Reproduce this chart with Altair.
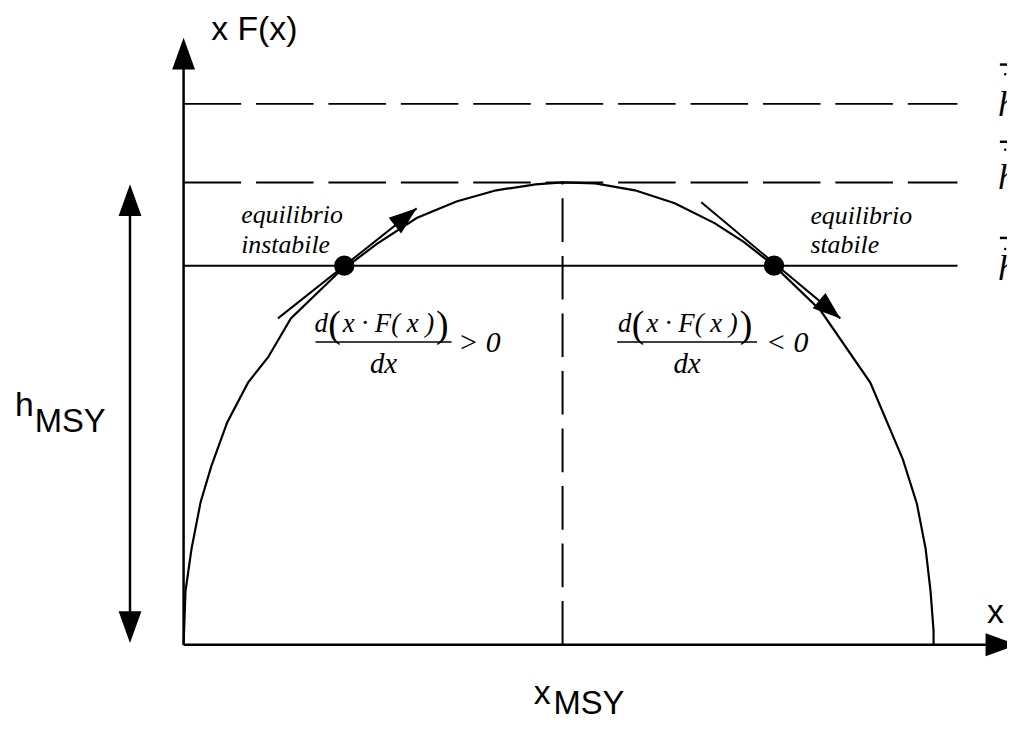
import altair as alt
import pandas as pd

# ---- data (x in units of x_MSY, y in units of h_MSY) ----
curve_x = [0, 0.005, 0.021, 0.045, 0.073, 0.115, 0.170, 0.223, 0.283, 0.406, 0.510,
           0.615, 0.720, 0.825, 0.929, 1.0, 1.086, 1.191, 1.296, 1.401, 1.479, 1.558,
           1.681, 1.812, 1.898, 1.935, 1.958, 1.971, 1.979, 1.979]
curve_y = [0, 0.116, 0.208, 0.309, 0.386, 0.481, 0.567, 0.622, 0.706, 0.803, 0.867,
           0.923, 0.959, 0.983, 0.996, 1.0, 0.998, 0.983, 0.955, 0.912, 0.871, 0.820,
           0.723, 0.567, 0.401, 0.305, 0.208, 0.116, 0.030, 0]

x_msy = 1.0
h_msy = 1.0

dashed_levels = [1.170, 1.0]
solid_levels = [0.820]
level_x_end = 2.042

eq_x = [0.424, 1.558]
eq_y = [0.820, 0.820]

tan_x0 = [0.249, 1.366]
tan_y0 = [0.706, 0.957]
tan_x1 = [0.615, 1.733]
tan_y1 = [0.944, 0.706]
tan_angle = [51.6, 129.9]

eq_labels_top = ["equilibrio", "equilibrio"]
eq_labels_bot = ["instabile", "stabile"]
eq_label_x = [0.152, 1.654]
eq_label_y_top = [0.912, 0.910]
eq_label_y_bot = [0.848, 0.848]

frac_center_x = [0.5275, 1.3285]
frac_num_y = 0.676
frac_den_y = 0.588
frac_bar_y = 0.655
frac_bar_x0 = [0.348, 1.144]
frac_bar_x1 = [0.707, 1.513]
frac_sign = ["> 0", "< 0"]
frac_sign_x = [0.725, 1.537]
frac_sign_y = 0.633
num_d = "d"
num_open = "("
num_inner = "x · F( x )"
num_close = ")"
frac_den = "dx"

h_label_y = [1.144, 0.985, 0.790]
h_bar_y = [1.255, 1.088, 0.880]
h_dot_y = [1.234, 1.071, 0.856]

# ---- scales ----
X = alt.Scale(domain=[-0.46335, 2.17277], nice=False, zero=False)
Y = alt.Scale(domain=[-0.16309, 1.37124], nice=False, zero=False)
ARROW = "M0,0L0.72,2L-0.72,2Z"
SERIF = "Liberation Serif"
SANS = "Liberation Sans"


def xe(f="x"):
    return alt.X(f + ":Q", scale=X, axis=None)


def ye(f="y"):
    return alt.Y(f + ":Q", scale=Y, axis=None)


def text_layer(df, **kw):
    base = dict(baseline="alphabetic", color="black")
    base.update(kw)
    return alt.Chart(df).mark_text(**base).encode(x=xe(), y=ye(), text="t:N")


layers = []

# curve
cdf = pd.DataFrame({"x": curve_x, "y": curve_y, "i": range(len(curve_x))})
layers.append(alt.Chart(cdf).mark_line(color="black", strokeWidth=2.2).encode(
    x=xe(), y=ye(), order="i:Q"))

# dashed levels
ddf = pd.DataFrame({"x": [0.0] * len(dashed_levels), "x2": [level_x_end] * len(dashed_levels),
                    "y": dashed_levels})
layers.append(alt.Chart(ddf).mark_rule(color="black", strokeWidth=2, strokeDash=[58, 15]).encode(
    x=xe(), x2="x2:Q", y=ye()))
# solid level
sdf = pd.DataFrame({"x": [0.0], "x2": [level_x_end], "y": solid_levels})
layers.append(alt.Chart(sdf).mark_rule(color="black", strokeWidth=2).encode(
    x=xe(), x2="x2:Q", y=ye()))
# vertical dashed at x_MSY
vdf = pd.DataFrame({"x": [x_msy], "y": [0.0], "y2": [h_msy]})
layers.append(alt.Chart(vdf).mark_rule(color="black", strokeWidth=2, strokeDash=[44, 14]).encode(
    x=xe(), y=ye(), y2="y2:Q"))

# axes
adf = pd.DataFrame({"x": [0.0, 0.0], "x2": [0.0, 2.17], "y": [0.0, 0.0], "y2": [1.26, 0.0]})
layers.append(alt.Chart(adf).mark_rule(color="black", strokeWidth=2.5).encode(
    x=xe(), x2="x2:Q", y=ye(), y2="y2:Q"))
# double arrow h_MSY
hdf = pd.DataFrame({"x": [-0.1414], "y": [0.03], "y2": [h_msy - 0.03]})
layers.append(alt.Chart(hdf).mark_rule(color="black", strokeWidth=2.5).encode(
    x=xe(), y=ye(), y2="y2:Q"))

# big arrowheads (axes and h_MSY)
bah = pd.DataFrame({"x": [0.0, 2.20, -0.1414, -0.1414],
                    "y": [1.313, 0.0, h_msy - 0.004, 0.004],
                    "a": [0, 90, 0, 180]})
layers.append(alt.Chart(bah).mark_point(shape=ARROW, filled=True, size=1024, opacity=1,
                                         color="black", strokeWidth=0).encode(
    x=xe(), y=ye(), angle=alt.Angle("a:Q", scale=None)))

# tangents
tdf = pd.DataFrame({"x": tan_x0, "y": tan_y0, "x2": tan_x1, "y2": tan_y1})
layers.append(alt.Chart(tdf).mark_rule(color="black", strokeWidth=2).encode(
    x=xe(), y=ye(), x2="x2:Q", y2="y2:Q"))
tah = pd.DataFrame({"x": tan_x1, "y": tan_y1, "a": tan_angle})
layers.append(alt.Chart(tah).mark_point(shape=ARROW, filled=True, size=784, opacity=1,
                                         color="black", strokeWidth=0).encode(
    x=xe(), y=ye(), angle=alt.Angle("a:Q", scale=None)))

# equilibrium dots
edf = pd.DataFrame({"x": eq_x, "y": eq_y})
layers.append(alt.Chart(edf).mark_circle(color="black", size=420, opacity=1).encode(
    x=xe(), y=ye()))

# equilibrium labels
ldf = pd.DataFrame({"x": eq_label_x * 2, "y": eq_label_y_top + eq_label_y_bot,
                    "t": eq_labels_top + eq_labels_bot})
layers.append(text_layer(ldf, align="left", font=SERIF, fontStyle="italic", fontSize=26))


# fractions: numerator pieces around the bar centre
def frac_piece(t, y, **kw):
    df = pd.DataFrame({"x": frac_center_x, "y": [y] * 2, "t": [t] * 2})
    return text_layer(df, **kw)


layers.append(frac_piece(num_d, frac_num_y, align="right", dx=-56, font=SERIF,
                         fontStyle="italic", fontSize=27))
layers.append(frac_piece(num_open, frac_num_y, align="right", dx=-43, dy=5, font=SERIF,
                         fontSize=38))
layers.append(frac_piece(num_inner, frac_num_y, align="left", dx=-41, font=SERIF,
                         fontStyle="italic", fontSize=27))
layers.append(frac_piece(num_close, frac_num_y, align="left", dx=53, dy=5, font=SERIF,
                         fontSize=38))
layers.append(frac_piece(frac_den, frac_den_y, align="center", font=SERIF,
                         fontStyle="italic", fontSize=29))
fbdf = pd.DataFrame({"x": frac_bar_x0, "x2": frac_bar_x1, "y": [frac_bar_y] * 2})
layers.append(alt.Chart(fbdf).mark_rule(color="black", strokeWidth=1.5).encode(
    x=xe(), x2="x2:Q", y=ye()))
sgdf = pd.DataFrame({"x": frac_sign_x, "y": [frac_sign_y] * 2, "t": frac_sign})
layers.append(text_layer(sgdf, align="left", font=SERIF, fontStyle="italic", fontSize=30))

# sans labels
sans = pd.DataFrame({
    "x": [0.073, 2.120, -0.445, 0.924],
    "y": [1.309, 0.047, 0.494, -0.129],
    "t": ["x F(x)", "x", "h", "x"],
})
layers.append(text_layer(sans, align="left", font=SANS, fontSize=34))
subs = pd.DataFrame({"x": [-0.393, 0.976], "y": [0.461, -0.150], "t": ["MSY", "MSY"]})
layers.append(text_layer(subs, align="left", font=SANS, fontSize=33))

# cut-off level labels at the right edge
hl = pd.DataFrame({"x": [2.149] * 3, "y": h_label_y, "t": ["h"] * 3})
layers.append(text_layer(hl, align="left", font=SERIF, fontStyle="italic", fontSize=36))
hb = pd.DataFrame({"x": [2.154] * 3, "x2": [2.19] * 3, "y": h_bar_y})
layers.append(alt.Chart(hb).mark_rule(color="black", strokeWidth=2.5).encode(
    x=xe(), x2="x2:Q", y=ye()))
hd = pd.DataFrame({"x": [2.168] * 3, "y": h_dot_y})
layers.append(alt.Chart(hd).mark_circle(color="black", size=6, opacity=1).encode(
    x=xe(), y=ye()))

chart = alt.layer(*layers).properties(
    width=1007, height=715, padding=0, autosize="none"
).configure_view(stroke=None)

chart.save("out.html", embed_options={"renderer": "svg", "actions": False})
